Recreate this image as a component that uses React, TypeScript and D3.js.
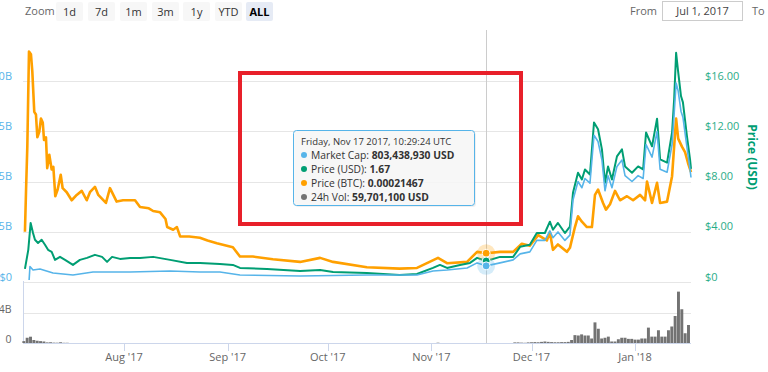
import React from "react";
import * as d3 from "d3";

const parseT = d3.utcParse("%Y-%m-%d %H");
const parseD = d3.utcParse("%Y-%m-%d");

// Price (USD)
const priceUsd: [string, number][] = [
  ["2017-07-02 08", 1.04], ["2017-07-03 08", 2.56], ["2017-07-04 01", 4.7], ["2017-07-04 18", 3.9],
  ["2017-07-05 08", 3.36], ["2017-07-06 06", 3.1], ["2017-07-07 08", 3.36], ["2017-07-08 08", 2.96],
  ["2017-07-09 06", 2.56], ["2017-07-10 08", 2.4], ["2017-07-11 08", 1.76], ["2017-07-12 20", 2.0],
  ["2017-07-14 08", 1.76], ["2017-07-16 17", 1.36], ["2017-07-18 19", 1.76], ["2017-07-20 22", 1.92],
  ["2017-07-23 07", 2.16], ["2017-07-25 10", 2.0], ["2017-07-26 22", 1.6], ["2017-07-28 10", 2.0],
  ["2017-07-30 19", 1.84], ["2017-08-02 19", 1.92], ["2017-08-05 19", 1.92], ["2017-08-09 17", 2.0],
  ["2017-08-14 19", 1.76], ["2017-08-19 20", 1.52], ["2017-08-23 18", 1.52], ["2017-08-29 17", 1.44],
  ["2017-09-02 14", 1.36], ["2017-09-04 17", 1.12], ["2017-09-12 19", 1.04], ["2017-09-22 17", 0.88],
  ["2017-09-28 17", 0.96], ["2017-10-02 14", 0.8], ["2017-10-12 17", 0.72], ["2017-10-22 12", 0.56],
  ["2017-10-27 17", 0.64], ["2017-11-01 12", 1.12], ["2017-11-03 14", 1.36], ["2017-11-05 17", 1.12],
  ["2017-11-09 14", 1.36], ["2017-11-12 14", 1.52], ["2017-11-14 17", 1.92], ["2017-11-17 10", 1.67],
  ["2017-11-21 14", 2.0], ["2017-11-25 12", 2.0], ["2017-11-27 14", 2.8], ["2017-11-30 12", 2.96],
  ["2017-12-02 14", 3.9], ["2017-12-05 00", 3.9], ["2017-12-06 12", 4.8], ["2017-12-07 10", 4.16],
  ["2017-12-08 22", 4.7], ["2017-12-11 00", 3.9], ["2017-12-12 12", 4.4], ["2017-12-13 10", 7.1],
  ["2017-12-14 22", 8.7], ["2017-12-16 02", 8.16], ["2017-12-17 00", 8.96], ["2017-12-18 12", 8.56],
  ["2017-12-19 17", 12.7], ["2017-12-20 22", 12.16], ["2017-12-22 02", 10.56], ["2017-12-23 00", 7.9],
  ["2017-12-23 22", 9.2], ["2017-12-25 02", 8.16], ["2017-12-26 14", 10.0], ["2017-12-28 02", 10.56],
  ["2017-12-29 00", 9.2], ["2017-12-31 02", 8.7], ["2018-01-01 22", 9.2], ["2018-01-03 10", 8.96],
  ["2018-01-04 07", 11.9], ["2018-01-06 02", 10.8], ["2018-01-07 14", 13.0], ["2018-01-08 12", 9.76],
  ["2018-01-10 14", 9.5], ["2018-01-12 02", 11.9], ["2018-01-12 17", 14.56], ["2018-01-13 07", 18.24],
  ["2018-01-13 22", 16.7], ["2018-01-14 18", 14.8], ["2018-01-15 08", 14.3], ["2018-01-16 13", 11.6],
  ["2018-01-17 11", 9.76], ["2018-01-17 18", 9.0],
];

// Market cap (USD billions)
const marketCapB: [string, number][] = [
  ["2017-07-03 14", 0.1], ["2017-07-03 20", 0.77], ["2017-07-04 18", 0.6], ["2017-07-06 20", 0.65],
  ["2017-07-10 18", 0.45], ["2017-07-16 17", 0.35], ["2017-07-22 17", 0.5], ["2017-08-02 19", 0.5],
  ["2017-08-14 19", 0.55], ["2017-08-23 18", 0.5], ["2017-08-29 17", 0.5], ["2017-09-04 17", 0.35],
  ["2017-09-22 17", 0.3], ["2017-10-12 17", 0.35], ["2017-10-27 17", 0.35], ["2017-11-01 12", 0.55],
  ["2017-11-05 17", 0.6], ["2017-11-11 17", 0.7], ["2017-11-14 17", 0.95], ["2017-11-17 10", 0.803],
  ["2017-11-21 14", 0.95], ["2017-11-25 12", 1.1], ["2017-11-27 14", 1.4], ["2017-11-30 12", 1.5],
  ["2017-12-02 14", 2.07], ["2017-12-05 00", 2.07], ["2017-12-06 12", 2.54], ["2017-12-07 10", 2.2],
  ["2017-12-08 22", 2.49], ["2017-12-11 00", 2.07], ["2017-12-12 12", 2.33], ["2017-12-13 10", 4.08],
  ["2017-12-14 22", 5.0], ["2017-12-16 02", 4.69], ["2017-12-17 00", 5.15], ["2017-12-18 12", 4.92],
  ["2017-12-19 17", 7.3], ["2017-12-20 22", 6.99], ["2017-12-22 02", 6.07], ["2017-12-23 00", 4.54],
  ["2017-12-23 22", 5.29], ["2017-12-25 02", 4.69], ["2017-12-26 14", 5.75], ["2017-12-28 02", 6.07],
  ["2017-12-29 00", 5.29], ["2017-12-31 02", 5.0], ["2018-01-01 22", 5.29], ["2018-01-03 10", 5.15],
  ["2018-01-04 07", 6.84], ["2018-01-06 02", 6.21], ["2018-01-07 14", 7.48], ["2018-01-08 12", 5.61],
  ["2018-01-10 14", 5.46], ["2018-01-12 02", 6.84], ["2018-01-12 17", 8.37], ["2018-01-13 07", 9.9],
  ["2018-01-13 22", 9.5], ["2018-01-14 18", 8.5], ["2018-01-15 08", 8.2], ["2018-01-16 13", 6.7],
  ["2018-01-17 11", 5.6], ["2018-01-17 18", 5.2],
];

// Price (BTC)
const priceBtc: [string, number][] = [
  ["2017-07-02 08", 0.000375], ["2017-07-02 16", 0.00069], ["2017-07-03 01", 0.00101], ["2017-07-03 13", 0.00172],
  ["2017-07-04 03", 0.0017], ["2017-07-04 13", 0.00157], ["2017-07-05 03", 0.00127], ["2017-07-05 15", 0.00125],
  ["2017-07-06 01", 0.00108], ["2017-07-06 15", 0.00112], ["2017-07-07 03", 0.00122], ["2017-07-07 16", 0.00119],
  ["2017-07-08 01", 0.00106], ["2017-07-08 15", 0.00108], ["2017-07-09 00", 0.00085], ["2017-07-09 15", 0.00095],
  ["2017-07-10 08", 0.00084], ["2017-07-10 20", 0.00086], ["2017-07-11 10", 0.00064], ["2017-07-12 03", 0.00069],
  ["2017-07-13 01", 0.0008], ["2017-07-13 15", 0.0007], ["2017-07-14 20", 0.00067], ["2017-07-16 08", 0.00061],
  ["2017-07-17 20", 0.00065], ["2017-07-19 08", 0.00068], ["2017-07-20 20", 0.00061], ["2017-07-21 19", 0.00067],
  ["2017-07-23 07", 0.00071], ["2017-07-24 07", 0.00065], ["2017-07-26 14", 0.00059], ["2017-07-27 19", 0.0007],
  ["2017-07-29 19", 0.0006], ["2017-07-31 17", 0.00061], ["2017-08-04 07", 0.00061], ["2017-08-05 19", 0.00056],
  ["2017-08-08 10", 0.00055], ["2017-08-09 17", 0.00053], ["2017-08-11 19", 0.00052], ["2017-08-13 10", 0.00047],
  ["2017-08-13 22", 0.00041], ["2017-08-15 17", 0.00039], ["2017-08-16 20", 0.00041], ["2017-08-17 19", 0.00034],
  ["2017-08-20 12", 0.00034], ["2017-08-23 17", 0.00033], ["2017-08-26 00", 0.00031], ["2017-08-28 19", 0.00029],
  ["2017-09-02 14", 0.00026], ["2017-09-04 17", 0.00019], ["2017-09-08 14", 0.00019], ["2017-09-14 14", 0.00017],
  ["2017-09-22 17", 0.00015], ["2017-09-28 17", 0.00018], ["2017-10-02 14", 0.00015], ["2017-10-12 17", 0.00011],
  ["2017-10-22 12", 0.0001], ["2017-10-27 17", 0.000105], ["2017-11-03 00", 0.00018], ["2017-11-05 17", 0.00014],
  ["2017-11-11 17", 0.00015], ["2017-11-14 17", 0.000225], ["2017-11-17 10", 0.00021467], ["2017-11-21 14", 0.000225],
  ["2017-11-25 12", 0.000225], ["2017-11-28 02", 0.000285], ["2017-11-30 12", 0.00027], ["2017-12-03 00", 0.00035],
  ["2017-12-05 14", 0.00031], ["2017-12-06 12", 0.00037], ["2017-12-07 10", 0.00024], ["2017-12-08 22", 0.00028],
  ["2017-12-11 14", 0.000225], ["2017-12-12 12", 0.000255], ["2017-12-14 00", 0.00041], ["2017-12-14 22", 0.00049],
  ["2017-12-16 02", 0.00045], ["2017-12-17 14", 0.00041], ["2017-12-19 02", 0.00041], ["2017-12-20 00", 0.00065],
  ["2017-12-20 22", 0.00069], ["2017-12-22 10", 0.00059], ["2017-12-23 07", 0.00054], ["2017-12-24 12", 0.00058],
  ["2017-12-26 00", 0.00068], ["2017-12-27 12", 0.00061], ["2017-12-29 14", 0.00064], ["2017-12-31 10", 0.00061],
  ["2018-01-02 12", 0.00065], ["2018-01-04 00", 0.00061], ["2018-01-04 14", 0.00075], ["2018-01-06 02", 0.00059],
  ["2018-01-07 14", 0.00074], ["2018-01-08 12", 0.00059], ["2018-01-10 14", 0.0006], ["2018-01-12 02", 0.00079],
  ["2018-01-13 07", 0.00122], ["2018-01-13 22", 0.00107], ["2018-01-15 01", 0.00101], ["2018-01-15 23", 0.00097],
  ["2018-01-16 20", 0.00089], ["2018-01-17 18", 0.00082],
];

// 24h volume (USD billions), daily
const volumeB: [string, number][] = [
  ["2017-07-02", 0.25], ["2017-07-03", 0.7], ["2017-07-04", 0.84], ["2017-07-05", 0.4], ["2017-07-06", 0.3],
  ["2017-07-07", 0.25], ["2017-07-08", 0.2], ["2017-07-09", 0.08], ["2017-07-10", 0.1], ["2017-07-11", 0.05],
  ["2017-07-12", 0.04], ["2017-07-13", 0.1], ["2017-07-14", 0.03], ["2017-07-15", 0.03], ["2017-11-03", 0.04],
  ["2017-11-26", 0.08], ["2017-11-27", 0.08], ["2017-11-28", 0.05], ["2017-11-29", 0.03], ["2017-11-30", 0.08],
  ["2017-12-01", 0.1], ["2017-12-02", 0.12], ["2017-12-03", 0.1], ["2017-12-04", 0.15], ["2017-12-05", 0.2],
  ["2017-12-06", 0.15], ["2017-12-07", 0.12], ["2017-12-08", 0.1], ["2017-12-09", 0.1], ["2017-12-10", 0.12],
  ["2017-12-11", 0.12], ["2017-12-12", 0.15], ["2017-12-13", 0.4], ["2017-12-14", 1.05], ["2017-12-15", 1.0],
  ["2017-12-16", 1.15], ["2017-12-17", 1.0], ["2017-12-18", 1.0], ["2017-12-19", 0.6], ["2017-12-20", 2.75],
  ["2017-12-21", 1.9], ["2017-12-22", 0.6], ["2017-12-23", 0.7], ["2017-12-24", 0.85], ["2017-12-25", 0.2],
  ["2017-12-26", 0.2], ["2017-12-27", 0.5], ["2017-12-28", 0.7], ["2017-12-29", 0.7], ["2017-12-30", 0.55],
  ["2017-12-31", 0.55], ["2018-01-01", 0.45], ["2018-01-02", 0.45], ["2018-01-03", 0.6], ["2018-01-04", 0.6],
  ["2018-01-05", 2.05], ["2018-01-06", 0.85], ["2018-01-07", 0.85], ["2018-01-08", 1.7], ["2018-01-09", 0.85],
  ["2018-01-10", 0.85], ["2018-01-11", 1.7], ["2018-01-12", 2.2], ["2018-01-13", 3.6], ["2018-01-14", 6.85],
  ["2018-01-15", 4.5], ["2018-01-16", 1.3], ["2018-01-17", 2.4],
];

// Left-axis labels as visible in the (left-cropped) reference
const leftTicks = [0, 2.5, 5, 7.5, 10];
const leftTickLabels = ["$0", "5B", "5B", "5B", "0B"];
const rightTicks = [0, 4, 8, 12, 16];
const rightTickLabels = ["$0", "$4.00", "$8.00", "$12.00", "$16.00"];
const volTicks = [0, 4];
const volTickLabels = ["0", "4B"];
const zoomButtons = ["1d", "7d", "1m", "3m", "1y", "YTD", "ALL"];
const fromDate = "Jul 1, 2017";
const hoverTime = "2017-11-17 10";
const tooltipHeader = "Friday, Nov 17 2017, 10:29:24 UTC";
const tooltipNames = ["Market Cap", "Price (USD)", "Price (BTC)", "24h Vol"];
const tooltipValues = ["803,438,930 USD", "1.67", "0.00021467", "59,701,100 USD"];

const C_BLUE = "#56b4e9";
const C_GREEN = "#009e73";
const C_ORANGE = "#ffa000";
const C_VOL = "#737373";
const FONT = "'Open Sans', sans-serif";

export default function App() {
  const W = 768, H = 372;
  const x = d3.scaleUtc()
    .domain([parseT("2017-07-01 18")!, parseT("2018-01-17 18")!])
    .range([23, 691]);
  const yPrice = d3.scaleLinear().domain([0, 16]).range([282, 81]);
  const yCap = d3.scaleLinear().domain([0, 10]).range([282, 81]);
  const yBtc = d3.scaleLinear().domain([0, 0.0015]).range([282, 81]);
  const yVol = d3.scaleLinear().domain([0, 4]).range([343, 313]);

  const mk = (ys: d3.ScaleLinear<number, number>) =>
    d3.line<[string, number]>().x((d) => x(parseT(d[0])!)).y((d) => ys(d[1]));

  const months = d3.utcMonth.range(parseD("2017-08-01")!, parseD("2018-01-18")!);
  const fmtMonth = d3.utcFormat("%b '%y");
  const hx = x(parseT(hoverTime)!);
  const hv = (arr: [string, number][]) => arr.find((d) => d[0] === hoverTime)![1];

  const barW = Math.max(1, x(parseD("2017-12-02")!) - x(parseD("2017-12-01")!) - 0.4);

  return (
    <svg width={W} height={H} style={{ position: "absolute", left: 0, top: 0, fontFamily: FONT }}>
      <rect width={W} height={H} fill="#fff" />
      {/* range selector */}
      <text x={25} y={15} fontSize={11} fill="#666">Zoom</text>
      {zoomButtons.map((b, i) => {
        const bx = [56, 88, 120, 152, 183, 215, 246][i];
        const sel = b === "ALL";
        return (
          <g key={b}>
            <rect x={bx} y={2} width={27} height={19} rx={2} fill={sel ? "#e6ebf5" : "#f7f7f7"} />
            <text x={bx + 13.5} y={15.5} fontSize={11} textAnchor="middle" fill={sel ? "#000" : "#333"} fontWeight={sel ? "bold" : "normal"}>{b}</text>
          </g>
        );
      })}
      <text x={630} y={15} fontSize={11} fill="#666">From</text>
      <rect x={662.5} y={1.5} width={80} height={19} fill="#fff" stroke="#ccc" />
      <text x={702.5} y={15} fontSize={11} fill="#444" textAnchor="middle">{fromDate}</text>
      <text x={752} y={15} fontSize={11} fill="#666">To</text>

      {/* main grid */}
      {rightTicks.map((t) => (
        <line key={t} x1={23} x2={691} y1={Math.round(yPrice(t)) + 0.5} y2={Math.round(yPrice(t)) + 0.5} stroke="#e6e6e6" />
      ))}
      {leftTicks.map((t, i) => (
        <text key={t} x={12} y={yCap(t) - 1.5} fontSize={11} fill={C_BLUE} textAnchor="end">{leftTickLabels[i]}</text>
      ))}
      {rightTicks.map((t, i) => (
        <text key={t} x={705} y={yPrice(t) - 1.5} fontSize={11} fill={C_GREEN} opacity={0.85}>{rightTickLabels[i]}</text>
      ))}
      <text transform="translate(748,157) rotate(90)" fontSize={12} fontWeight="bold" fill={C_GREEN} textAnchor="middle">Price (USD)</text>

      {/* volume pane */}
      <line x1={23} x2={691} y1={313.5} y2={313.5} stroke="#e6e6e6" />
      <line x1={23.5} x2={23.5} y1={281} y2={343} stroke="#ccd6eb" />
      {volTicks.map((t, i) => (
        <text key={t} x={11.5} y={yVol(t) - 0.5} fontSize={10.5} fill="#666" textAnchor="end">{volTickLabels[i]}</text>
      ))}
      {volumeB.map((d) => {
        const cx = x(parseD(d[0])!);
        const y0 = yVol(0), y1 = yVol(d[1]);
        return <rect key={d[0]} x={cx - barW / 2} y={y1} width={barW} height={y0 - y1} fill={C_VOL} />;
      })}
      <line x1={23} x2={691} y1={343.5} y2={343.5} stroke="#ccd6eb" />
      {months.map((m) => (
        <g key={+m}>
          <line x1={Math.round(x(m)) + 0.5} x2={Math.round(x(m)) + 0.5} y1={343} y2={351} stroke="#ccd6eb" />
          <text x={x(m)} y={361} fontSize={11} fill="#666" textAnchor="middle">{fmtMonth(m)}</text>
        </g>
      ))}

      {/* crosshair */}
      <line x1={Math.round(hx) + 0.5} x2={Math.round(hx) + 0.5} y1={30} y2={343} stroke="#cccccc" />

      {/* series */}
      <path d={mk(yBtc)(priceBtc)!} fill="none" stroke={C_ORANGE} strokeWidth={2.6} strokeLinejoin="round" />
      <path d={mk(yPrice)(priceUsd)!} fill="none" stroke={C_GREEN} strokeWidth={2} strokeLinejoin="round" />
      <path d={mk(yCap)(marketCapB)!} fill="none" stroke={C_BLUE} strokeWidth={1.6} strokeLinejoin="round" />

      {/* hover markers */}
      <circle cx={hx} cy={yBtc(hv(priceBtc))} r={9} fill={C_ORANGE} opacity={0.25} />
      <circle cx={hx} cy={yCap(hv(marketCapB))} r={9} fill={C_BLUE} opacity={0.25} />
      <circle cx={hx} cy={yBtc(hv(priceBtc))} r={4} fill={C_ORANGE} stroke="#fff" />
      <circle cx={hx} cy={yPrice(hv(priceUsd))} r={4} fill={C_GREEN} stroke="#fff" />
      <circle cx={hx} cy={yCap(hv(marketCapB))} r={4} fill={C_BLUE} stroke="#fff" />

      {/* tooltip */}
      <rect x={294} y={131} width={181} height={75} rx={3} fill="#000" opacity={0.06} transform="translate(1,1)" />
      <rect x={293.5} y={130.5} width={181} height={75} rx={3} fill="rgba(247,247,247,0.9)" stroke={C_BLUE} />
      <text x={301} y={144.5} fontSize={9.5} fill="#333">{tooltipHeader}</text>
      {tooltipNames.map((n, i) => {
        const base = 158.5 + i * 14;
        const col = [C_BLUE, C_GREEN, C_ORANGE, C_VOL][i];
        return (
          <g key={n}>
            <circle cx={304} cy={base - 3.5} r={3} fill={col} />
            <text x={311} y={base} fontSize={10.3} fill="#333">
              {n}: <tspan fontWeight="bold">{tooltipValues[i]}</tspan>
            </text>
          </g>
        );
      })}

      {/* red annotation box */}
      <rect x={240} y={73} width={281} height={151} fill="none" stroke="#e8202a" strokeWidth={4} />
    </svg>
  );
}
